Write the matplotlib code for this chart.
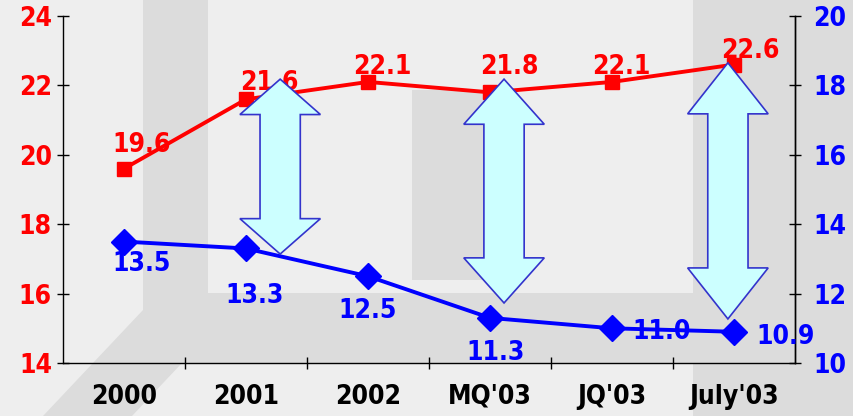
import matplotlib
matplotlib.use("Agg")
import matplotlib.pyplot as plt
from matplotlib.patches import Polygon, Rectangle

categories = ["2000", "2001", "2002", "MQ'03", "JQ'03", "July'03"]
red_values = [19.6, 21.6, 22.1, 21.8, 22.1, 22.6]
blue_values = [13.5, 13.3, 12.5, 11.3, 11.0, 10.9]

# label offsets from each marker, in points (dx, dy)
red_offsets = [(13, 17), (17, 12), (10, 11), (14, 18), (7, 11), (12, 10)]
blue_offsets = [(13, -16), (6, -34), (0, -25), (4, -25), (36, -3), (37, -4)]

# double-headed arrows: x centre (category units), top, bottom, head length (left-axis units)
arrows = [(1.28, 22.18, 17.14, 1.02), (3.115, 22.18, 15.73, 1.3), (4.95, 22.65, 15.27, 1.47)]

RED = "#FF0000"
BLUE = "#0000FF"
LIGHT = "#EEEEEE"
DARK = "#DCDCDC"

plt.rcParams["font.family"] = "DejaVu Sans"
plt.rcParams["font.stretch"] = "condensed"
plt.rcParams["font.weight"] = "bold"
FS = 19

W, H = 854, 416
fig = plt.figure(figsize=(W / 100, H / 100), dpi=100)
fig.patch.set_facecolor(LIGHT)

# room-like backdrop, in pixel coordinates
bg = fig.add_axes([0, 0, 1, 1], zorder=0)
bg.set_xlim(0, W)
bg.set_ylim(H, 0)
bg.axis("off")
bg.add_patch(Polygon([(143, 0), (208, 0), (208, 293), (693, 293), (693, 0), (854, 0),
                      (854, 416), (693, 416), (693, 363), (182, 363), (132, 416),
                      (43, 416), (143, 310)], closed=True, facecolor=DARK, edgecolor="none"))
bg.add_patch(Rectangle((412, 90), 78, 190, facecolor=DARK, edgecolor="none"))

left, right, bottom, top = 63, 795, 363, 16
ax = fig.add_axes([left / W, (H - bottom) / H, (right - left) / W, (bottom - top) / H], zorder=1)
ax.patch.set_visible(False)
ax2 = ax.twinx()

x = list(range(len(categories)))
ax.plot(x, red_values, color=RED, lw=2.8, marker="s", ms=10, zorder=3)
ax2.plot(x, blue_values, color=BLUE, lw=2.8, marker="D", ms=13, zorder=3)

ax.set_xlim(-0.5, len(categories) - 0.5)
ax.set_ylim(14, 24)
ax2.set_ylim(10, 20)
ax.set_yticks(range(14, 25, 2))
ax2.set_yticks(range(10, 21, 2))

for xi, v, (dx, dy) in zip(x, red_values, red_offsets):
    ax2.annotate(f"{v:.1f}", (xi, v), xycoords=ax.transData, xytext=(dx, dy),
                 textcoords="offset points", ha="center", va="center", color=RED,
                 fontsize=FS, zorder=4)
for xi, v, (dx, dy) in zip(x, blue_values, blue_offsets):
    ax2.annotate(f"{v:.1f}", (xi, v), xytext=(dx, dy), textcoords="offset points",
                 ha="center", va="center", color=BLUE, fontsize=FS, zorder=4)

# block arrows between the two series
for xc, yt, yb, hl in arrows:
    hw, sw = 0.33, 0.165
    pts = [(xc, yt), (xc + hw, yt - hl), (xc + sw, yt - hl), (xc + sw, yb + hl),
           (xc + hw, yb + hl), (xc, yb), (xc - hw, yb + hl), (xc - sw, yb + hl),
           (xc - sw, yt - hl), (xc - hw, yt - hl)]
    ax2.add_patch(Polygon(pts, closed=True, transform=ax.transData, facecolor="#CCFFFF",
                          edgecolor="#3333CC", lw=1.2, zorder=5))

for a in (ax, ax2):
    a.spines["top"].set_visible(False)
    for s in ("left", "right", "bottom"):
        a.spines[s].set_linewidth(1.0)
ax2.spines["left"].set_visible(False)
ax2.spines["bottom"].set_visible(False)

ax.set_xticks(x)
ax.set_xticklabels(categories, fontsize=FS)
ax.set_xticks([i + 0.5 for i in x[:-1]], minor=True)
ax.tick_params(axis="x", which="major", length=0, pad=15)
ax.tick_params(axis="x", which="minor", direction="inout", length=9, width=1)
ax.tick_params(axis="y", direction="inout", length=8, width=1, pad=4, labelcolor=RED, labelsize=FS)
ax2.tick_params(axis="y", direction="inout", length=8, width=1, pad=9, labelcolor=BLUE, labelsize=FS)

fig.savefig("out.png", dpi=100, facecolor=fig.get_facecolor())
